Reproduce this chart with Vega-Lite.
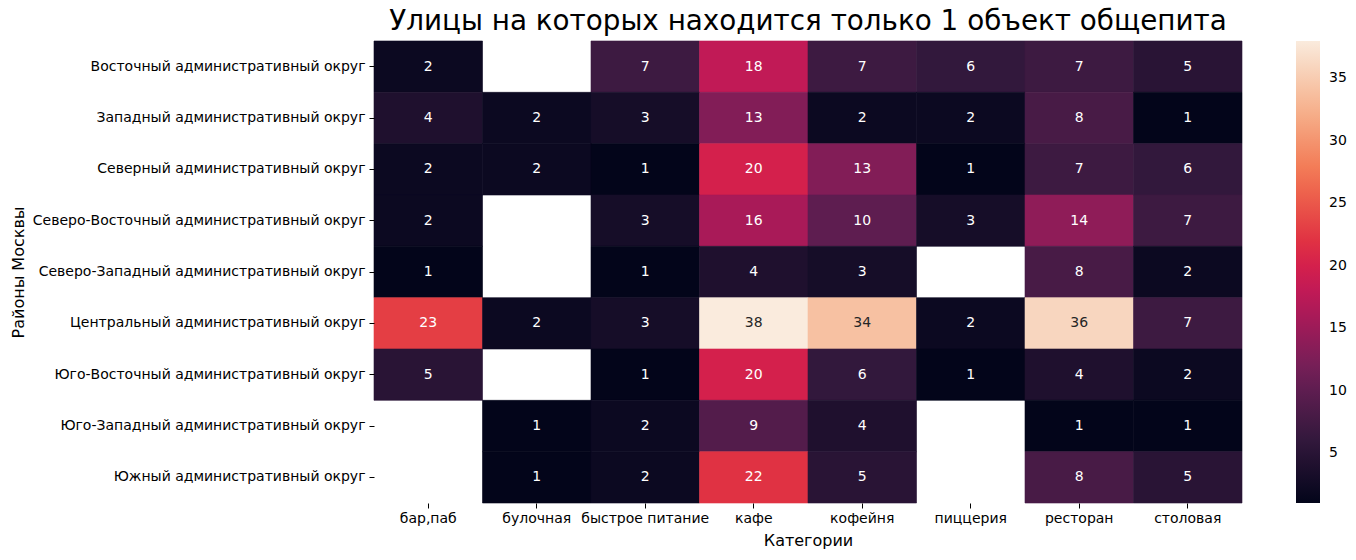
{
  "$schema": "https://vega.github.io/schema/vega-lite/v6.json",
  "autosize": {"type": "none"},
  "padding": {"left": 374, "top": 41, "right": 114, "bottom": 57},
  "width": 868,
  "height": 462,
  "background": "white",
  "config": {
    "font": "DejaVu Sans",
    "view": {"stroke": null},
    "title": {"font": "DejaVu Sans", "fontSize": 27.8, "fontWeight": "normal", "color": "#000000", "offset": 5}
  },
  "title": {"text": "Улицы на которых находится только 1 объект общепита", "anchor": "middle"},
  "data": {"values": [
    {"district": "Восточный административный округ", "category": "бар,паб", "count": 2},
    {"district": "Восточный административный округ", "category": "быстрое питание", "count": 7},
    {"district": "Восточный административный округ", "category": "кафе", "count": 18},
    {"district": "Восточный административный округ", "category": "кофейня", "count": 7},
    {"district": "Восточный административный округ", "category": "пиццерия", "count": 6},
    {"district": "Восточный административный округ", "category": "ресторан", "count": 7},
    {"district": "Восточный административный округ", "category": "столовая", "count": 5},
    {"district": "Западный административный округ", "category": "бар,паб", "count": 4},
    {"district": "Западный административный округ", "category": "булочная", "count": 2},
    {"district": "Западный административный округ", "category": "быстрое питание", "count": 3},
    {"district": "Западный административный округ", "category": "кафе", "count": 13},
    {"district": "Западный административный округ", "category": "кофейня", "count": 2},
    {"district": "Западный административный округ", "category": "пиццерия", "count": 2},
    {"district": "Западный административный округ", "category": "ресторан", "count": 8},
    {"district": "Западный административный округ", "category": "столовая", "count": 1},
    {"district": "Северный административный округ", "category": "бар,паб", "count": 2},
    {"district": "Северный административный округ", "category": "булочная", "count": 2},
    {"district": "Северный административный округ", "category": "быстрое питание", "count": 1},
    {"district": "Северный административный округ", "category": "кафе", "count": 20},
    {"district": "Северный административный округ", "category": "кофейня", "count": 13},
    {"district": "Северный административный округ", "category": "пиццерия", "count": 1},
    {"district": "Северный административный округ", "category": "ресторан", "count": 7},
    {"district": "Северный административный округ", "category": "столовая", "count": 6},
    {"district": "Северо-Восточный административный округ", "category": "бар,паб", "count": 2},
    {"district": "Северо-Восточный административный округ", "category": "быстрое питание", "count": 3},
    {"district": "Северо-Восточный административный округ", "category": "кафе", "count": 16},
    {"district": "Северо-Восточный административный округ", "category": "кофейня", "count": 10},
    {"district": "Северо-Восточный административный округ", "category": "пиццерия", "count": 3},
    {"district": "Северо-Восточный административный округ", "category": "ресторан", "count": 14},
    {"district": "Северо-Восточный административный округ", "category": "столовая", "count": 7},
    {"district": "Северо-Западный административный округ", "category": "бар,паб", "count": 1},
    {"district": "Северо-Западный административный округ", "category": "быстрое питание", "count": 1},
    {"district": "Северо-Западный административный округ", "category": "кафе", "count": 4},
    {"district": "Северо-Западный административный округ", "category": "кофейня", "count": 3},
    {"district": "Северо-Западный административный округ", "category": "ресторан", "count": 8},
    {"district": "Северо-Западный административный округ", "category": "столовая", "count": 2},
    {"district": "Центральный административный округ", "category": "бар,паб", "count": 23},
    {"district": "Центральный административный округ", "category": "булочная", "count": 2},
    {"district": "Центральный административный округ", "category": "быстрое питание", "count": 3},
    {"district": "Центральный административный округ", "category": "кафе", "count": 38},
    {"district": "Центральный административный округ", "category": "кофейня", "count": 34},
    {"district": "Центральный административный округ", "category": "пиццерия", "count": 2},
    {"district": "Центральный административный округ", "category": "ресторан", "count": 36},
    {"district": "Центральный административный округ", "category": "столовая", "count": 7},
    {"district": "Юго-Восточный административный округ", "category": "бар,паб", "count": 5},
    {"district": "Юго-Восточный административный округ", "category": "быстрое питание", "count": 1},
    {"district": "Юго-Восточный административный округ", "category": "кафе", "count": 20},
    {"district": "Юго-Восточный административный округ", "category": "кофейня", "count": 6},
    {"district": "Юго-Восточный административный округ", "category": "пиццерия", "count": 1},
    {"district": "Юго-Восточный административный округ", "category": "ресторан", "count": 4},
    {"district": "Юго-Восточный административный округ", "category": "столовая", "count": 2},
    {"district": "Юго-Западный административный округ", "category": "булочная", "count": 1},
    {"district": "Юго-Западный административный округ", "category": "быстрое питание", "count": 2},
    {"district": "Юго-Западный административный округ", "category": "кафе", "count": 9},
    {"district": "Юго-Западный административный округ", "category": "кофейня", "count": 4},
    {"district": "Юго-Западный административный округ", "category": "ресторан", "count": 1},
    {"district": "Юго-Западный административный округ", "category": "столовая", "count": 1},
    {"district": "Южный административный округ", "category": "булочная", "count": 1},
    {"district": "Южный административный округ", "category": "быстрое питание", "count": 2},
    {"district": "Южный административный округ", "category": "кафе", "count": 22},
    {"district": "Южный административный округ", "category": "кофейня", "count": 5},
    {"district": "Южный административный округ", "category": "ресторан", "count": 8},
    {"district": "Южный административный округ", "category": "столовая", "count": 5}
  ]},
  "encoding": {
    "x": {
      "field": "category", "type": "nominal",
      "scale": {"domain": ["бар,паб", "булочная", "быстрое питание", "кафе", "кофейня", "пиццерия", "ресторан", "столовая"], "paddingInner": 0, "paddingOuter": 0},
      "axis": {
        "title": "Категории", "titleFontSize": 16, "titleFontWeight": "normal", "titleColor": "#000000",
        "titleY": 42, "titleBaseline": "alphabetic",
        "labelAngle": 0, "labelFontSize": 14, "labelColor": "#000000", "labelPadding": 3,
        "domain": false, "ticks": true, "tickSize": 5, "tickColor": "#000000", "tickWidth": 1
      }
    },
    "y": {
      "field": "district", "type": "nominal",
      "scale": {"domain": [
        "Восточный административный округ",
        "Западный административный округ",
        "Северный административный округ",
        "Северо-Восточный административный округ",
        "Северо-Западный административный округ",
        "Центральный административный округ",
        "Юго-Восточный административный округ",
        "Юго-Западный административный округ",
        "Южный административный округ"
      ], "paddingInner": 0, "paddingOuter": 0},
      "axis": {
        "title": "Районы Москвы", "titleFontSize": 16, "titleFontWeight": "normal", "titleColor": "#000000",
        "titleX": -356, "titleY": 231, "titleAngle": -90, "titleAlign": "center", "titleBaseline": "middle",
        "labelFontSize": 14, "labelColor": "#000000", "labelPadding": 4, "labelLimit": 400,
        "domain": false, "ticks": true, "tickSize": 5, "tickColor": "#000000", "tickWidth": 1
      }
    }
  },
  "layer": [
    {
      "mark": {"type": "rect", "strokeWidth": 0.6, "stroke": {"expr": "scale('color', datum.count)"}},
      "encoding": {
        "color": {
          "field": "count", "type": "quantitative",
          "scale": {
            "domain": [1, 6.2857, 11.5714, 16, 18, 20, 22.1429, 27.4286, 32.7143, 38],
            "range": ["#03051a", "#35193e", "#701f57", "#a91a58", "#c11a56", "#d4204c", "#e13342", "#f37651", "#f6b48f", "#faebdd"],
            "interpolate": "rgb"
          },
          "legend": {
            "type": "gradient",
            "title": null, "orient": "none", "legendX": 922, "legendY": 0,
            "direction": "vertical", "gradientLength": 462, "gradientThickness": 24,
            "gradientStrokeWidth": 0, "values": [5, 10, 15, 20, 25, 30, 35],
            "labelFontSize": 14, "labelColor": "#000000", "labelOffset": 9
          }
        }
      }
    },
    {
      "mark": {"type": "text", "fontSize": 14, "baseline": "middle", "align": "center"},
      "encoding": {
        "text": {"field": "count", "type": "quantitative"},
        "color": {
          "condition": {"test": "datum.count >= 30", "value": "#262626"},
          "value": "#ffffff"
        }
      }
    }
  ]
}
